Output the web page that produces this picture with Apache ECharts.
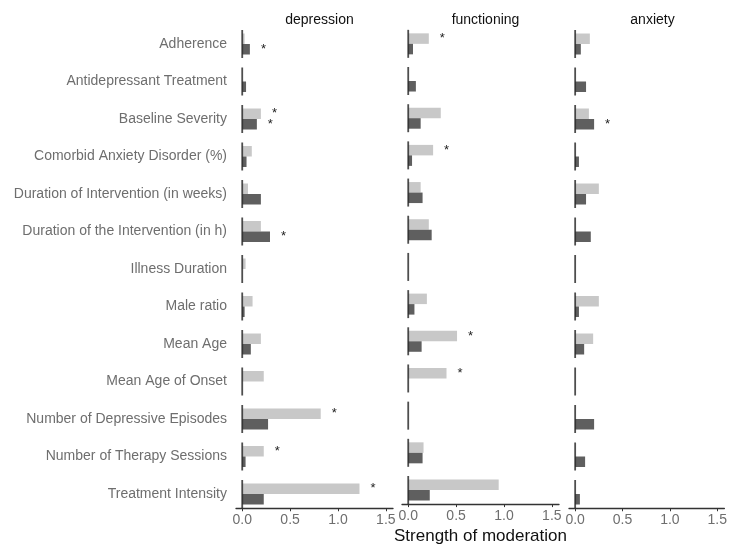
<!DOCTYPE html>
<html>
<head>
<meta charset="utf-8">
<script src="https://cdn.jsdelivr.net/npm/echarts@6/dist/echarts.min.js"></script>
<style>html,body{margin:0;padding:0;background:#fff;}#c{width:730px;height:550px;}</style>
</head>
<body>
<div id="c"></div>
<script>
var categories = ["Adherence","Antidepressant Treatment","Baseline Severity","Comorbid Anxiety Disorder (%)","Duration of Intervention (in weeks)","Duration of the Intervention (in h)","Illness Duration","Male ratio","Mean Age","Mean Age of Onset","Number of Depressive Episodes","Number of Therapy Sessions","Treatment Intensity"];
var panels = ["depression","functioning","anxiety"];
var xTicks = [0, 0.5, 1.0, 1.5];

// light (upper) bars and dark (lower) bars
var depLight  = [0.025,0.0,0.195,0.10,0.06,0.195,0.035,0.108,0.195,0.225,0.82,0.225,1.225];
var depDark   = [0.08,0.04,0.153,0.045,0.195,0.29,0.0,0.025,0.09,0.0,0.27,0.035,0.225];
var funLight  = [0.215,0.0,0.34,0.26,0.13,0.215,0.0,0.195,0.51,0.40,0.0,0.16,0.945];
var funDark   = [0.05,0.08,0.13,0.04,0.15,0.245,0.0,0.065,0.14,0.0,0.0,0.15,0.225];
var anxLight  = [0.155,0.0,0.145,0.0,0.25,0.0,0.0,0.25,0.19,0.0,0.0,0.0,0.0];
var anxDark   = [0.06,0.115,0.20,0.04,0.115,0.165,0.0,0.04,0.095,0.0,0.20,0.105,0.05];

// significance flags (1 = asterisk)
var depLightSig = [0,0,1,0,0,0,0,0,0,0,1,1,1];
var depDarkSig  = [1,0,1,0,0,1,0,0,0,0,0,0,0];
var funLightSig = [1,0,0,1,0,0,0,0,1,1,0,0,0];
var funDarkSig  = [0,0,0,0,0,0,0,0,0,0,0,0,0];
var anxLightSig = [0,0,0,0,0,0,0,0,0,0,0,0,0];
var anxDarkSig  = [0,0,1,0,0,0,0,0,0,0,0,0,0];

var lights = [depLight, funLight, anxLight];
var darks = [depDark, funDark, anxDark];
var lightSigs = [depLightSig, funLightSig, anxLightSig];
var darkSigs = [depDarkSig, funDarkSig, anxDarkSig];

var FONT = "Liberation Sans, Arial, Helvetica, sans-serif";
var gridLefts = [236, 402, 569];
var gridW = 157;
var gridTop = 25.25;
var gridH = 487.5;

var grids = [], xAxes = [], yAxes = [], series = [], titles = [];
function withSig(vals, sig) {
  return vals.map(function (v, i) {
    return {
      value: v,
      label: {show: sig[i] === 1, formatter: '*', position: 'right', distance: 11,
              color: '#222', fontSize: 13, fontFamily: FONT}
    };
  });
}
for (var p = 0; p < 3; p++) {
  grids.push({left: gridLefts[p], top: gridTop, width: gridW, height: gridH, containLabel: false});
  xAxes.push({
    type: 'value', gridIndex: p, min: -0.065, max: 1.575, interval: 0.5,
    position: 'bottom', offset: -4.5,
    axisLine: {show: true, onZero: false, lineStyle: {color: '#333', width: 1.3}},
    axisTick: {show: true, length: 3, lineStyle: {color: '#333'},
               customValues: xTicks},
    axisLabel: {show: true, color: '#6e6e6e', fontSize: 14, fontFamily: FONT, margin: 5,
                customValues: xTicks,
                formatter: function (v) { return v.toFixed(1); }},
    splitLine: {show: false},
    name: p === 1 ? 'Strength of moderation' : '',
    nameLocation: 'middle', nameGap: 23,
    nameTextStyle: {color: '#111', fontSize: 17, fontFamily: FONT}
  });
  yAxes.push({
    type: 'category', gridIndex: p, data: categories, inverse: true,
    axisLine: {show: false}, axisTick: {show: false}, splitLine: {show: false},
    axisLabel: {show: p === 0, color: '#6e6e6e', fontSize: 14, fontFamily: FONT, margin: 9}
  });
  titles.push({
    text: panels[p], left: gridLefts[p] + gridW / 2, top: 8, textAlign: 'center',
    textStyle: {fontSize: 14, fontWeight: 'normal', color: '#111', fontFamily: FONT}
  });
  series.push({
    type: 'bar', xAxisIndex: p, yAxisIndex: p, data: withSig(lights[p], lightSigs[p]),
    barWidth: 10.5, barGap: '0%', itemStyle: {color: '#c8c8c8'}, silent: true, z: 2
  });
  series.push({
    type: 'bar', xAxisIndex: p, yAxisIndex: p, data: withSig(darks[p], darkSigs[p]),
    barWidth: 10.5, barGap: '0%', itemStyle: {color: '#5f5f5f'}, silent: true, z: 2
  });
  series.push({
    type: 'scatter', xAxisIndex: p, yAxisIndex: p,
    data: categories.map(function (c) { return [0, c]; }),
    symbol: 'rect', symbolSize: [1.8, 28], itemStyle: {color: '#222'}, silent: true, z: 5
  });
}

var chart = echarts.init(document.getElementById('c'), null, {renderer: 'canvas'});
chart.setOption({
  animation: false,
  backgroundColor: '#fff',
  title: titles,
  grid: grids,
  xAxis: xAxes,
  yAxis: yAxes,
  series: series
});
</script>
</body>
</html>
